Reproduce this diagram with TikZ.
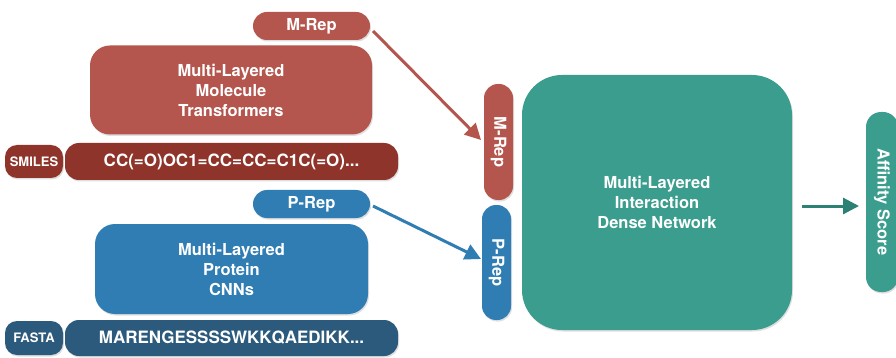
\documentclass[tikz,border=0pt]{standalone}
\usepackage{fontspec}
\setmainfont{TeX Gyre Heros}
\usetikzlibrary{shadows,arrows.meta}
\definecolor{mred}{HTML}{B4564D}
\definecolor{mdark}{HTML}{8F342B}
\definecolor{pblue}{HTML}{2F7DB3}
\definecolor{pdark}{HTML}{2B5A7C}
\definecolor{teal1}{HTML}{3A9D8D}
\definecolor{tealarr}{HTML}{2A8174}
\tikzset{
  box/.style={draw=none,text=white,font=\bfseries,align=center,inner sep=0pt,
    drop shadow={shadow xshift=1pt,shadow yshift=-1.5pt,opacity=0.25}},
  big/.style={font=\bfseries\fontsize{16.5}{20}\selectfont},
  small/.style={font=\bfseries\fontsize{13}{15}\selectfont},
  seq/.style={font=\bfseries\fontsize{17}{20}\selectfont},
  arr/.style={line width=3pt,-{Triangle[length=16pt,width=16pt]}}
}
\begin{document}
\begin{tikzpicture}[x=1pt,y=-1pt]
\useasboundingbox (0,0) rectangle (896,358);
\fill[white] (0,0) rectangle (896,358);
% molecule side
\node[box,big,fill=mred,rounded corners=14pt,minimum width=117pt,minimum height=28pt] (mrep) at (311.5,26) {M-Rep};
\node[box,big,fill=mred,rounded corners=20pt,minimum width=282pt,minimum height=89pt] (mtrans) at (231,90) {Multi-Layered\\Molecule\\Transformers};
\node[box,small,fill=mdark,rounded corners=12pt,minimum width=58pt,minimum height=33pt] (smiles) at (34,161.5) {SMILES};
\node[box,seq,fill=mdark,rounded corners=14pt,minimum width=333pt,minimum height=37pt] (smilesseq) at (231.5,161.5) {CC(=O)OC1=CC=CC=C1C(=O)...};
% protein side
\node[box,big,fill=pblue,rounded corners=14pt,minimum width=117pt,minimum height=28pt] (prep) at (311.5,204) {P-Rep};
\node[box,big,fill=pblue,rounded corners=20pt,minimum width=273pt,minimum height=90pt] (pcnn) at (231.5,269) {Multi-Layered\\Protein\\CNNs};
\node[box,small,fill=pdark,rounded corners=12pt,minimum width=58pt,minimum height=34pt] (fasta) at (34,338) {FASTA};
\node[box,seq,fill=pdark,rounded corners=14pt,minimum width=333pt,minimum height=36pt] (fastaseq) at (231.5,338) {MARENGESSSSWKKQAEDIKK...};
% vertical reps
\node[box,big,fill=mred,rounded corners=14pt,minimum width=116pt,minimum height=29pt,rotate=-90] (mrepv) at (498.5,142) {M-Rep};
\node[box,big,fill=pblue,rounded corners=14pt,minimum width=115pt,minimum height=29pt,rotate=-90] (prepv) at (496.5,262.5) {P-Rep};
% main
\node[box,big,fill=teal1,rounded corners=40pt,minimum width=270pt,minimum height=255pt] (dense) at (657,202.5) {Multi-Layered\\Interaction\\Dense Network};
\node[box,big,fill=teal1,rounded corners=15pt,minimum width=180pt,minimum height=32pt,rotate=-90] (aff) at (882,202) {Affinity Score};
% arrow end points
\coordinate (ms) at (373,31);
\coordinate (me) at (481,140);
\coordinate (ps) at (373,206);
\coordinate (pe) at (481,259);
\coordinate (ts) at (802,206);
\coordinate (te) at (859,206);
% arrows
\draw[arr,mred] (ms) -- (me);
\draw[arr,pblue] (ps) -- (pe);
\draw[arr,tealarr] (ts) -- (te);
\end{tikzpicture}
\end{document}
